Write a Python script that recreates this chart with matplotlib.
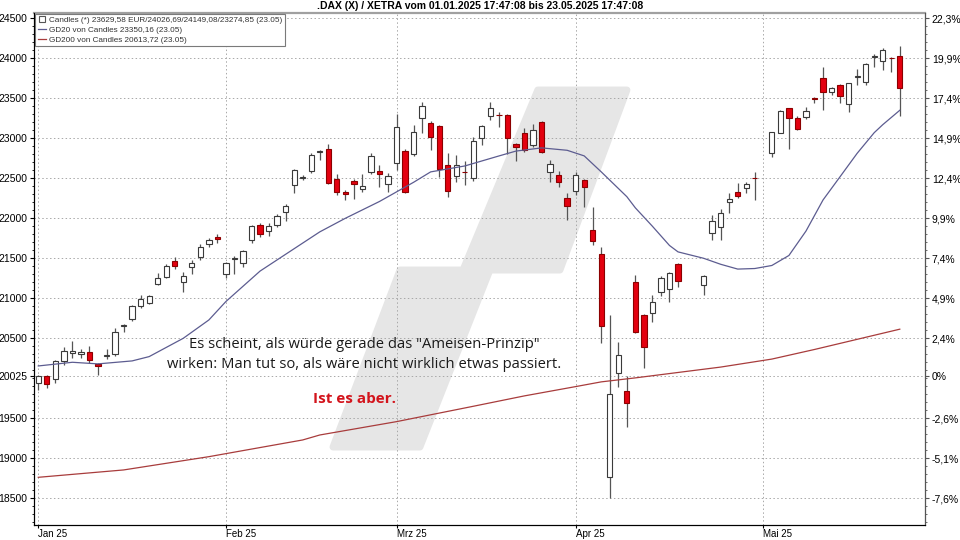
import numpy as np, pandas as pd, matplotlib
matplotlib.use('Agg')
import matplotlib.pyplot as plt
from matplotlib.lines import Line2D
from matplotlib.patches import Polygon

# trading days on Xetra (weekday slots, holidays stay empty)
HOLIDAYS = ['2025-04-18', '2025-04-21', '2025-05-01']
days = pd.bdate_range('2025-01-02', '2025-05-23')
days = days[~days.isin(pd.to_datetime(HOLIDAYS))]

opens = [19937, 20029, 19996, 20221, 20322, 20305, 20325, 20175, 20275, 20304, 20650, 20737, 20908, 20937, 21175, 21271, 21467, 21208, 21387, 21512, 21679, 21771,
         21304, 21490, 21437, 21729, 21917, 21842, 21917, 22083, 22416, 22500, 22591, 22830, 22862, 22491, 22325, 22462, 22366, 22583, 22587, 22425,
         22687, 22845, 22804, 23250, 23195, 23158, 22666, 22529, 22580, 22500, 23000, 23279, 23290, 23291, 22925, 23070, 22916, 23200, 22575, 22545, 22258,
         22345, 22479, 21854, 21550, 18770, 20062, 19845, 21208, 20791, 20812, 21075, 21116, 21429, 21166, 21812, 21896, 22208, 22333, 22375, 22508,
         22812, 23070, 23375, 23250, 23262, 23500, 23750, 23583, 23666, 23429, 23762, 23708, 24012, 23966, 24000, 24026.69]
highs = [20035, 20035, 20229, 20396, 20471, 20371, 20404, 20187, 20362, 20625, 20680, 20912, 21041, 21041, 21312, 21429, 21512, 21333, 21479, 21679, 21750, 21800,
         21458, 21529, 21604, 21917, 21937, 21937, 22050, 22179, 22612, 22541, 22812, 22854, 22925, 22554, 22354, 22487, 22554, 22820, 22666, 22562,
         23304, 22860, 23166, 23450, 23220, 23170, 22812, 22791, 22720, 23020, 23166, 23458, 23333, 23300, 22935, 23125, 23175, 23210, 22729, 22596, 22312,
         22583, 22487, 22145, 21637, 20791, 20458, 20029, 21291, 20800, 21041, 21279, 21325, 21437, 21291, 22041, 22112, 22312, 22437, 22458, 22583,
         23083, 23354, 23383, 23279, 23395, 23520, 23895, 23637, 23679, 23695, 23862, 23937, 24050, 24125, 24012, 24149.08]
lows = [19854, 19875, 19937, 20166, 20250, 20258, 20196, 20041, 20241, 20283, 20583, 20721, 20875, 20929, 21167, 21250, 21362, 21083, 21304, 21479, 21646, 21696,
        21250, 21300, 21387, 21687, 21762, 21779, 21887, 21971, 22312, 22479, 22562, 22729, 22429, 22287, 22229, 22237, 22333, 22554, 22387, 22333,
        22604, 22312, 22779, 23062, 22854, 22512, 22262, 22458, 22416, 22470, 22916, 23229, 23137, 22804, 22720, 22833, 22887, 22820, 22458, 22387, 21979,
        22291, 22137, 21666, 20445, 18500, 19887, 19387, 20570, 20125, 20708, 21029, 20958, 21145, 21041, 21729, 21729, 22070, 22250, 22312, 22229,
        22762, 23062, 22862, 23104, 23237, 23437, 23354, 23541, 23437, 23333, 23666, 23666, 23895, 23854, 23833, 23274.85]
closes = [20025, 19929, 20217, 20346, 20335, 20330, 20229, 20150, 20292, 20583, 20666, 20904, 20991, 21033, 21250, 21404, 21404, 21283, 21437, 21646, 21729, 21737,
          21437, 21505, 21592, 21904, 21804, 21908, 22033, 22154, 22604, 22515, 22791, 22845, 22437, 22325, 22300, 22433, 22408, 22783, 22554, 22533,
          23146, 22333, 23075, 23408, 23012, 22616, 22341, 22666, 22575, 22970, 23154, 23375, 23285, 23000, 22887, 22854, 23104, 22833, 22679, 22458, 22158,
          22541, 22395, 21720, 20654, 19804, 20291, 19687, 20575, 20387, 20950, 21250, 21312, 21216, 21283, 21962, 22062, 22237, 22279, 22429, 22500,
          23083, 23341, 23250, 23116, 23345, 23495, 23575, 23625, 23533, 23687, 23775, 23925, 24025, 24104, 23999, 23629.58]

gd20_dates = ['2025-01-02', '2025-01-08', '2025-01-13', '2025-01-17', '2025-01-21', '2025-01-27', '2025-01-30', '2025-02-03', '2025-02-07',
              '2025-02-13', '2025-02-18', '2025-02-21', '2025-02-27', '2025-03-03', '2025-03-05', '2025-03-07', '2025-03-13', '2025-03-19',
              '2025-03-21', '2025-03-26', '2025-03-31', '2025-04-02', '2025-04-04', '2025-04-09', '2025-04-10', '2025-04-14', '2025-04-16',
              '2025-04-17', '2025-04-22', '2025-04-24', '2025-04-28', '2025-04-30', '2025-05-02', '2025-05-06', '2025-05-08', '2025-05-12',
              '2025-05-14', '2025-05-16', '2025-05-20', '2025-05-21', '2025-05-23']
gd20_vals = [20154, 20200, 20180, 20217, 20271, 20500, 20729, 20960, 21340,
             21620, 21830, 22000, 22210, 22330, 22450, 22580, 22654, 22779,
             22840, 22880, 22850, 22780, 22580, 22270, 22130, 21900, 21660,
             21580, 21500, 21425, 21365, 21372, 21410, 21535, 21840, 22229,
             22520, 22812, 23070, 23170, 23350.16]

gd200_dates = ['2025-01-02', '2025-01-16', '2025-01-30', '2025-02-14', '2025-02-18', '2025-03-03', '2025-03-14', '2025-03-24',
               '2025-04-01', '2025-04-04', '2025-04-10', '2025-04-24', '2025-05-02', '2025-05-09', '2025-05-23']
gd200_vals = [18762, 18854, 19020, 19229, 19291, 19458, 19650, 19780,
              19896, 19955, 20005, 20140, 20240, 20360, 20613.72]

ytick_vals = [24500, 24000, 23500, 23000, 22500, 22000, 21500, 21000, 20500, 20025, 19500, 19000, 18500]
ytick_pct = ['22,3%', '19,9%', '17,4%', '14,9%', '12,4%', '9,9%', '7,4%', '4,9%', '2,4%', '0%', '-2,6%', '-5,1%', '-7,6%']
month_starts = ['2025-01-02', '2025-02-03', '2025-03-03', '2025-04-01', '2025-05-01']
month_labels = ['Jan 25', 'Feb 25', 'Mrz 25', 'Apr 25', 'Mai 25']

TITLE = '.DAX (X) / XETRA vom 01.01.2025 17:47:08 bis 23.05.2025 17:47:08'
LEG = ['Candles (*) 23629,58 EUR/24026,69/24149,08/23274,85 (23.05)',
       'GD20 von Candles 23350,16 (23.05)',
       'GD200 von Candles 20613,72 (23.05)']
TXT1 = 'Es scheint, als würde gerade das "Ameisen-Prinzip"'
TXT2 = 'wirken: Man tut so, als wäre nicht wirklich etwas passiert.'
TXT3 = 'Ist es aber.'

FONT = 'Liberation Sans'
C_GD20, C_GD200 = '#5c5c90', '#a83c3c'
C_RED, C_RED_EDGE = '#e3000f', '#8c0000'


def slot(d):
    d = np.array(pd.to_datetime(d).values, dtype='datetime64[D]')
    return np.busday_count(np.datetime64('2025-01-02'), d)


def main():
    fig = plt.figure(figsize=(9.6, 5.4), dpi=100)
    ax = fig.add_axes([0.0357, 0.0278, 0.9278, 0.9481])

    # watermark logo behind everything
    logo = [(0.5653, 0.8496), (0.6654, 0.8496), (0.5902, 0.4980), (0.5116, 0.4980),
            (0.4330, 0.1523), (0.3354, 0.1523), (0.4106, 0.4980), (0.4813, 0.4980)]
    ax.add_patch(Polygon(logo, closed=True, transform=ax.transAxes, fc='#e6e6e6', ec='#e6e6e6',
                         lw=5, joinstyle='round', zorder=0.2))

    x = slot(days)
    o, h, l, c = map(np.array, (opens, highs, lows, closes))
    up = c >= o
    ax.vlines(x, l, h, color='#555555', lw=0.9, zorder=2)
    ax.bar(x[up], (c - o)[up], bottom=o[up], width=0.62, fc='white', ec='#3a3a3a', lw=0.8, zorder=3)
    ax.bar(x[~up], (o - c)[~up], bottom=c[~up], width=0.62, fc=C_RED, ec=C_RED_EDGE, lw=0.8, zorder=3)

    ax.plot(slot(gd20_dates), gd20_vals, color=C_GD20, lw=0.9, zorder=4)
    ax.plot(slot(gd200_dates), gd200_vals, color=C_GD200, lw=0.9, zorder=4)

    ax.set_xlim(-0.47, 103.95)
    ax.set_ylim(18166, 24566)
    ax.set_yticks(ytick_vals)
    ax.set_yticks(np.arange(18200, 24600, 100), minor=True)
    ax.set_xticks(slot(month_starts))
    ax.set_xticklabels(month_labels, ha='left')
    ax.tick_params(axis='y', which='major', labelsize=7.5, length=3, width=0.8, pad=2, colors='black')
    ax.tick_params(axis='y', which='minor', length=1.5, width=0.6)
    ax.tick_params(axis='x', which='major', labelsize=7, length=2.5, width=0.8, pad=0.5)
    ax.grid(True, which='major', ls=(0, (1.5, 2.5)), color='#a8a8a8', lw=0.7)
    ax.set_axisbelow(True)
    for s in ax.spines.values():
        s.set_linewidth(0.8)
    ax.spines['top'].set_color('#a0a0a0')
    ax.spines['top'].set_linewidth(1.6)

    ax2 = ax.twinx()
    ax2.set_ylim(ax.get_ylim())
    ax2.set_yticks(ytick_vals)
    ax2.set_yticklabels(ytick_pct)
    ax2.set_yticks(np.arange(18200, 24600, 100), minor=True)
    ax2.tick_params(axis='y', which='major', labelsize=7.5, length=3, width=0.8, pad=2, color='#555555')
    ax2.tick_params(axis='y', which='minor', length=1.5, width=0.6, color='#555555')
    ax2.spines['right'].set_color('#555555')
    ax2.spines['top'].set_visible(False)
    for t in ax.get_xticklabels() + ax.get_yticklabels() + ax2.get_yticklabels():
        t.set_fontfamily(FONT)

    handles = [Line2D([], [], ls='none', marker='s', ms=5, mfc='white', mec='#555555', mew=0.8),
               Line2D([], [], color=C_GD20, lw=0.9),
               Line2D([], [], color=C_GD200, lw=0.9)]
    leg = ax.legend(handles, LEG, loc='upper left', bbox_to_anchor=(0.0, 1.0), borderaxespad=0.1,
                    prop={'family': FONT, 'size': 5.9}, fancybox=False, framealpha=1, edgecolor='#7a7a7a',
                    handlelength=1.0, handletextpad=0.4, labelspacing=0.25, borderpad=0.3)
    leg.get_frame().set_linewidth(0.8)
    leg.set_zorder(6)
    for t in leg.get_texts():
        t.set_color('#333333')

    ax.text(0.370, 0.3516, TXT1, transform=ax.transAxes, ha='center', va='center',
            fontsize=10.6, family='Open Sans', color='#1a1a1a', zorder=5)
    ax.text(0.370, 0.3125, TXT2, transform=ax.transAxes, ha='center', va='center',
            fontsize=10.6, family='Open Sans', color='#1a1a1a', zorder=5)
    ax.text(0.359, 0.246, TXT3, transform=ax.transAxes, ha='center', va='center',
            fontsize=11, family='Open Sans', fontweight='bold', color='#d3141c', zorder=5)

    fig.text(0.5, 0.998, TITLE, ha='center', va='top', fontsize=7.5, fontweight='bold', family=FONT)
    plt.savefig('out.png', dpi=100)


if __name__ == '__main__': main()
